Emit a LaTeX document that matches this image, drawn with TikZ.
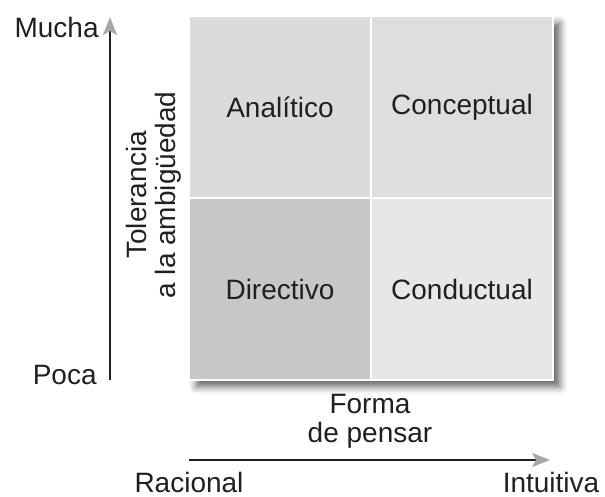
\documentclass[tikz,border=0pt]{standalone}
\usepackage{fontspec}
\setmainfont{Liberation Sans}
\definecolor{CellA}{RGB}{218, 219, 221}
\definecolor{CellB}{RGB}{221, 222, 223}
\definecolor{CellC}{RGB}{198, 199, 200}
\definecolor{CellD}{RGB}{230, 231, 232}
\definecolor{AxisInk}{RGB}{35, 31, 32}
\definecolor{TipGray}{RGB}{165, 167, 170}
\usepackage{tikz}
\usetikzlibrary{arrows.meta, positioning, shadows.blur}

\begin{document}
\begin{tikzpicture}[x=0.5pt, y=0.5pt, font=\fontsize{14}{14.5}\selectfont, text=AxisInk,
        cell/.style={draw=white, line width=1pt, minimum width=91pt, minimum height=91pt, inner sep=0pt},
        axis/.style={line width=1.2pt, AxisInk, -{Stealth[length=9pt, width=7pt, inset=2pt, color=TipGray]}}]
        \useasboundingbox (0,0) rectangle (605,497);

        % shadow behind the grid
        \fill[white, blur shadow={shadow xshift=3.5pt, shadow yshift=-3.5pt, shadow blur radius=3.5pt, shadow opacity=60}]
            (189,117) rectangle (553,481);

        \node[cell, fill=CellA] (analitico) at (280,390) {Analítico};
        \node[cell, fill=CellB] (conceptual) at (462,390) {Conceptual};
        \node[cell, fill=CellC] (directivo) at (280,208) {Directivo};
        \node[cell, fill=CellD] (conductual) at (462,208) {Conductual};

        \coordinate (ybot) at (110,117);
        \coordinate (ytop) at (110,480);
        \coordinate (xleft) at (189,37);
        \coordinate (xright) at (550,37);

        \node[anchor=east, inner sep=0pt] (mucha) at (99,469) {Mucha};
        \node[anchor=east, inner sep=0pt] (poca) at (97,122) {Poca};
        \node[rotate=90, align=center, inner sep=0pt] (tolerancia) at (154,302) {Tolerancia\\a la ambigüedad};

        \node[align=center, inner sep=0pt] (forma) at (370,76) {Forma\\de pensar};
        \node[inner sep=0pt] (racional) at (189,15) {Racional};
        \node[inner sep=0pt] (intuitiva) at (551,15) {Intuitiva};

        \draw[axis] (ybot) -- (ytop);
        \draw[axis] (xleft) -- (xright);
    \end{tikzpicture}
\end{document}
